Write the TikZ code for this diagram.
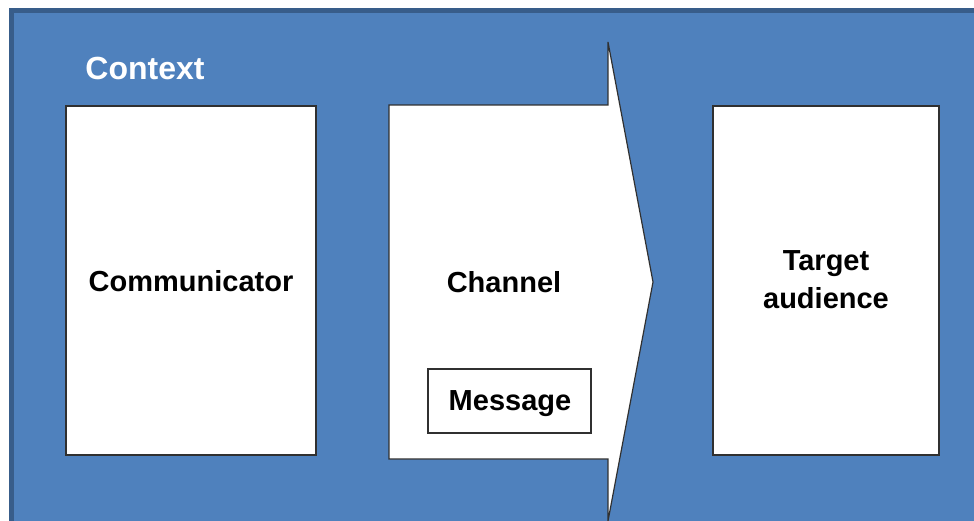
\documentclass[tikz,border=0pt]{standalone}
\usepackage{fontspec}
\setmainfont{Liberation Sans}
\definecolor{ctxfill}{HTML}{4F81BD}
\definecolor{ctxline}{HTML}{385D8A}
\definecolor{boxline}{HTML}{303030}
\tikzset{
  whitebox/.style={draw=boxline, fill=white, line width=0.6pt},
  lbl/.style={font=\fontsize{14.5}{19}\selectfont\bfseries, text=black, align=center, inner sep=0pt},
}
\begin{document}
\begin{tikzpicture}[x=0.5pt,y=-0.5pt]
\useasboundingbox (0,0) rectangle (974,520);
\clip (0,0) rectangle (974,520);
% context background
\draw[fill=ctxfill, draw=ctxline, line width=2.5pt] (11.5,10.5) rectangle (990,540);
\node[anchor=west, font=\fontsize{16}{19}\selectfont\bfseries, text=white, inner sep=0pt] (ctx) at (85,68) {Context};
% communicator
\draw[whitebox] (66,106) rectangle (316,455);
\node[lbl] (comm) at (191,281) {Communicator};
% channel arrow
\draw[whitebox] (389,105) -- (608,105) -- (608,42) -- (653,282) -- (608,521) -- (608,459) -- (389,459) -- cycle;
\node[lbl] (chan) at (504,282) {Channel};
% message
\node[whitebox, minimum width=163*0.5pt, minimum height=64*0.5pt, inner sep=0pt] (msg) at (509.5,401) {};
\node[lbl] (msgtxt) at (510,404) {Message};
% target audience
\draw[whitebox] (713,106) rectangle (939,455);
\node[lbl] (tgt) at (826,280) {Target\\audience};
\end{tikzpicture}
\end{document}
